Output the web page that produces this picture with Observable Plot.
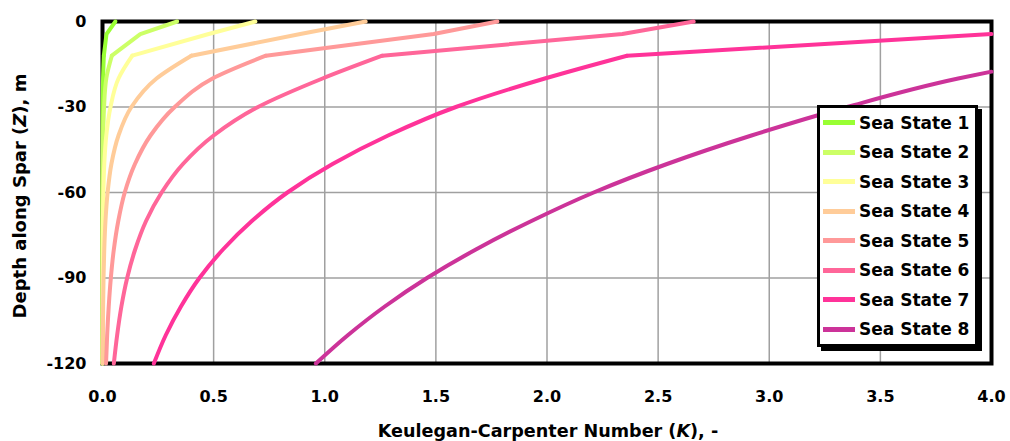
<!DOCTYPE html>
<html>
<head>
<meta charset="utf-8">
<script src="https://cdn.jsdelivr.net/npm/d3@7"></script>
<script src="https://cdn.jsdelivr.net/npm/@observablehq/plot@0.6"></script>
<style>
html, body { margin: 0; padding: 0; background: #fff; }
#wrap { position: relative; width: 1010px; height: 441px; }
#legend { position: absolute; left: 817px; top: 105px; width: 155px; border: 3px solid #000; background: #fff;
  box-shadow: 4px 4px 0 #000; font: bold 17px "DejaVu Sans", sans-serif; color: #000; }
.row { display: flex; align-items: center; height: 29.5px; white-space: nowrap; }
.sw { width: 32px; height: 5px; margin-left: 3px; margin-right: 4px; flex: none; }
</style>
</head>
<body>
<div id="wrap"><div id="legend"></div></div>
<script>
// Series names and colours
const seriesNames = ["Sea State 1","Sea State 2","Sea State 3","Sea State 4","Sea State 5","Sea State 6","Sea State 7","Sea State 8"];
const seriesColors = ["#99FF33","#CCFF66","#FFFF99","#FFCC99","#FF9999","#FF6699","#FF3399","#CC3399"];

// [depth Z (m), Keulegan-Carpenter number K]
const ss1 = [[0,0.058],[-4.4,0.018],[-12,0.006],[-20,0.0025],[-30,0.001],[-60,0.0001],[-120,0]];
const ss2 = [[0,0.336],[-4.4,0.17],[-12,0.042],[-20,0.017],[-30,0.007],[-45,0.002],[-60,0.0006],[-120,0]];
const ss3 = [[0,0.688],[-4.4,0.478],[-12,0.134],[-20,0.072],[-30,0.036],[-40,0.017],[-50,0.008],[-60,0.004],[-80,0.001],[-120,0]];
const ss4 = [[0,1.184],[-4.4,0.89],[-12,0.40],[-20,0.243],[-30,0.13],[-40,0.072],[-50,0.04],[-60,0.023],[-70,0.0134],[-80,0.0079],[-90,0.0047],[-100,0.0028],[-120,0.001]];
const ss5 = [[0,1.777],[-4.4,1.49],[-12,0.735],[-20,0.495],[-30,0.325],[-40,0.216],[-50,0.146],[-60,0.1],[-70,0.071],[-80,0.051],[-90,0.0375],[-100,0.028],[-110,0.021],[-120,0.016]];
const ss6 = [[0,2.66],[-4.4,2.339],[-12,1.259],[-20,0.99],[-30,0.70],[-40,0.50],[-50,0.362],[-60,0.266],[-70,0.196],[-80,0.147],[-90,0.111],[-100,0.085],[-110,0.066],[-120,0.051]];
const ss7 = [[-4.4,4.0],[-12,2.36],[-20,1.99],[-30,1.59],[-40,1.285],[-50,1.035],[-60,0.832],[-70,0.672],[-80,0.542],[-90,0.436],[-100,0.353],[-110,0.285],[-120,0.231]];
const ss8 = [[-17.6,4.0],[-20,3.85],[-30,3.35],[-40,2.92],[-50,2.54],[-60,2.21],[-70,1.93],[-80,1.68],[-90,1.46],[-100,1.27],[-110,1.105],[-120,0.96]];

const xTicks = [0,0.5,1,1.5,2,2.5,3,3.5,4];
const yTicks = [-120,-90,-60,-30,0];

const allSeries = [ss1,ss2,ss3,ss4,ss5,ss6,ss7,ss8];
const rows = allSeries.flatMap((s, i) => s.map(([z, k]) => ({series: seriesNames[i], z, k})));
// coarse near-surface samples are joined by straight segments, the deeper profile is smooth
const surfaceRows = rows.filter(d => d.z >= -12);
const deepRows = rows.filter(d => d.z <= -12);

const chart = Plot.plot({
  width: 1010,
  height: 441,
  marginLeft: 102,
  marginRight: 19,
  marginTop: 21,
  marginBottom: 78,
  style: {fontFamily: "'DejaVu Sans', sans-serif", fontSize: "16px", fontWeight: "bold", color: "#000", background: "#fff"},
  x: {domain: [0, 4], label: null},
  y: {domain: [-120, 0], label: null},
  color: {domain: seriesNames, range: seriesColors},
  marks: [
    Plot.gridX(xTicks, {stroke: "#a0a0a0", strokeOpacity: 1, strokeWidth: 1.5}),
    Plot.gridY(yTicks, {stroke: "#a0a0a0", strokeOpacity: 1, strokeWidth: 1.5}),
    Plot.frame({stroke: "#000", strokeWidth: 4}),
    Plot.line(deepRows, {x: "k", y: "z", z: "series", stroke: "series", strokeWidth: 4, curve: "monotone-y"}),
    Plot.line(surfaceRows, {x: "k", y: "z", z: "series", stroke: "series", strokeWidth: 4, strokeLinejoin: "round"}),
    Plot.axisX(xTicks, {tickSize: 0, tickPadding: 27, tickFormat: d => d.toFixed(1), label: null}),
    Plot.axisY(yTicks, {tickSize: 0, tickPadding: 16, tickFormat: d => String(d), label: null})
  ]
});

document.getElementById("wrap").prepend(chart);

// Axis titles with italic symbols
const svg = d3.select(chart);
const xt = svg.append("text")
  .attr("x", 548).attr("y", 437)
  .attr("text-anchor", "middle")
  .style("font", "bold 17.6px 'DejaVu Sans', sans-serif").attr("fill", "#000");
xt.append("tspan").text("Keulegan-Carpenter Number (");
xt.append("tspan").attr("font-style", "italic").text("K");
xt.append("tspan").text("), -");

const yt = svg.append("text")
  .attr("transform", "translate(26,196) rotate(-90)")
  .attr("text-anchor", "middle")
  .style("font", "bold 18px 'DejaVu Sans', sans-serif").attr("fill", "#000");
yt.append("tspan").text("Depth along Spar (");
yt.append("tspan").attr("font-style", "italic").text("Z");
yt.append("tspan").text("), m");

// Legend
const legend = d3.select("#legend");
seriesNames.forEach((name, i) => {
  const r = legend.append("div").attr("class", "row");
  r.append("div").attr("class", "sw").style("background", seriesColors[i]);
  r.append("span").text(name);
});
</script>
</body>
</html>
